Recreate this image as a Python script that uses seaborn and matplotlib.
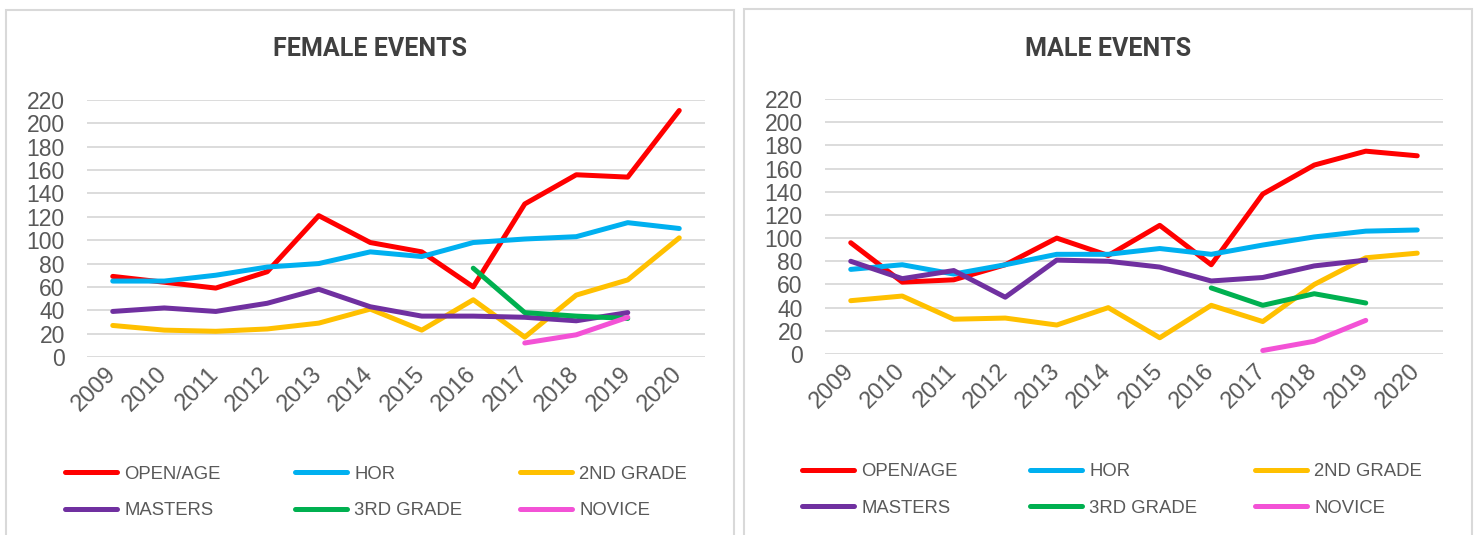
import numpy as np
import pandas as pd
import matplotlib
matplotlib.use("Agg")
import matplotlib.pyplot as plt
from matplotlib.lines import Line2D
from matplotlib.patches import Rectangle
import seaborn as sns

years = [2009, 2010, 2011, 2012, 2013, 2014, 2015, 2016, 2017, 2018, 2019, 2020]
series_names = ["OPEN/AGE", "HOR", "2ND GRADE", "MASTERS", "3RD GRADE", "NOVICE"]
series_colors = ["#FF0000", "#00B0F0", "#FFC000", "#7030A0", "#00B050", "#F352D6"]

female_open = [69, 64, 59, 73, 121, 98, 90, 60, 131, 156, 154, 211]
female_hor = [65, 65, 70, 77, 80, 90, 86, 98, 101, 103, 115, 110]
female_2nd = [27, 23, 22, 24, 29, 41, 23, 49, 17, 53, 66, 102]
female_masters = [39, 42, 39, 46, 58, 43, 35, 35, 34, 31, 38, None]
female_3rd = [None, None, None, None, None, None, None, 76, 38, 35, 33, None]
female_novice = [None, None, None, None, None, None, None, None, 12, 19, 34, None]

male_open = [96, 62, 64, 77, 100, 85, 111, 77, 138, 163, 175, 171]
male_hor = [73, 77, 69, 77, 86, 86, 91, 86, 94, 101, 106, 107]
male_2nd = [46, 50, 30, 31, 25, 40, 14, 42, 28, 60, 83, 87]
male_masters = [80, 65, 72, 49, 81, 80, 75, 63, 66, 76, 81, None]
male_3rd = [None, None, None, None, None, None, None, 57, 42, 52, 44, None]
male_novice = [None, None, None, None, None, None, None, None, 3, 11, 29, None]

titles = ["FEMALE EVENTS", "MALE EVENTS"]
y_ticks = list(range(0, 221, 20))


def long_frame(cols):
    rows = []
    for name, vals in zip(series_names, cols):
        for yr, v in zip(years, vals):
            if v is not None:
                rows.append({"year": yr, "value": v, "series": name})
    return pd.DataFrame(rows)


female_df = long_frame([female_open, female_hor, female_2nd, female_masters, female_3rd, female_novice])
male_df = long_frame([male_open, male_hor, male_2nd, male_masters, male_3rd, male_novice])

sns.set_theme(style="white")
plt.rcParams["font.family"] = ["Liberation Sans", "DejaVu Sans"]

W, H = 1475, 535
fig = plt.figure(figsize=(W / 100, H / 100), dpi=100)
palette = dict(zip(series_names, series_colors))

TXT = "#595959"
GRID = "#D9D9D9"


def px_rect(x0, y_top, x1, y_bot):
    return [x0 / W, 1 - y_bot / H, (x1 - x0) / W, (y_bot - y_top) / H]


# panel borders
for (x0, x1, yt) in [(6, 734, 10), (744, 1472, 9)]:
    fig.patches.append(Rectangle((x0 / W, -0.05), (x1 - x0) / W, 1.05 - yt / H,
                                 transform=fig.transFigure, fill=False,
                                 edgecolor=GRID, linewidth=1.5, zorder=0))

axes_specs = [
    (female_df, px_rect(87, 100, 705, 357), 370, [65, 295, 520], 492.5),
    (male_df, px_rect(825, 99, 1443, 354), 1108, [802, 1030, 1255], 490),
]

for (df, rect, title_x, leg_x, leg_y), title in zip(axes_specs, titles):
    ax = fig.add_axes(rect)
    sns.lineplot(data=df, x="year", y="value", hue="series", hue_order=series_names,
                 palette=palette, linewidth=3.6, solid_capstyle="round",
                 legend=False, ax=ax, zorder=3)
    ax.set_xlim(years[0] - 0.5, years[-1] + 0.5)
    ax.set_ylim(0, 220)
    ax.set_yticks(y_ticks)
    ax.set_xticks(years)
    ax.set_xticklabels([str(y) for y in years], rotation=45, ha="right",
                       rotation_mode="anchor", va="center")
    ax.tick_params(axis="y", length=0, pad=16, labelsize=16.5, labelcolor=TXT)
    ax.tick_params(axis="x", length=0, pad=10, labelsize=17, labelcolor=TXT)
    ax.set_xlabel("")
    ax.set_ylabel("")
    ax.grid(axis="y", color=GRID, linewidth=1.3, zorder=0)
    ax.grid(axis="x", visible=False)
    for s in ax.spines.values():
        s.set_visible(False)
    ax.set_facecolor("none")

    fig.text(title_x / W, 1 - 49 / H, title, ha="center", va="center",
             fontsize=18, fontweight="bold", color="#404040",
             family=["Roboto", "DejaVu Sans"])

    # legend: three columns, two rows (row-wise order as in reference)
    col_groups = [(0, 3), (1, 4), (2, 5)]
    for cx, (a, b) in zip(leg_x, col_groups):
        handles = [Line2D([0], [0], color=series_colors[i], linewidth=3.6,
                          solid_capstyle="round") for i in (a, b)]
        labels = [series_names[a], series_names[b]]
        fig.legend(handles, labels, loc="center left",
                   bbox_to_anchor=(cx / W, 1 - leg_y / H),
                   frameon=False, fontsize=13.3, labelcolor=TXT,
                   handlelength=2.8, handletextpad=0.4,
                   labelspacing=1.05, borderpad=0, borderaxespad=0)

fig.savefig("out.png", dpi=100)
